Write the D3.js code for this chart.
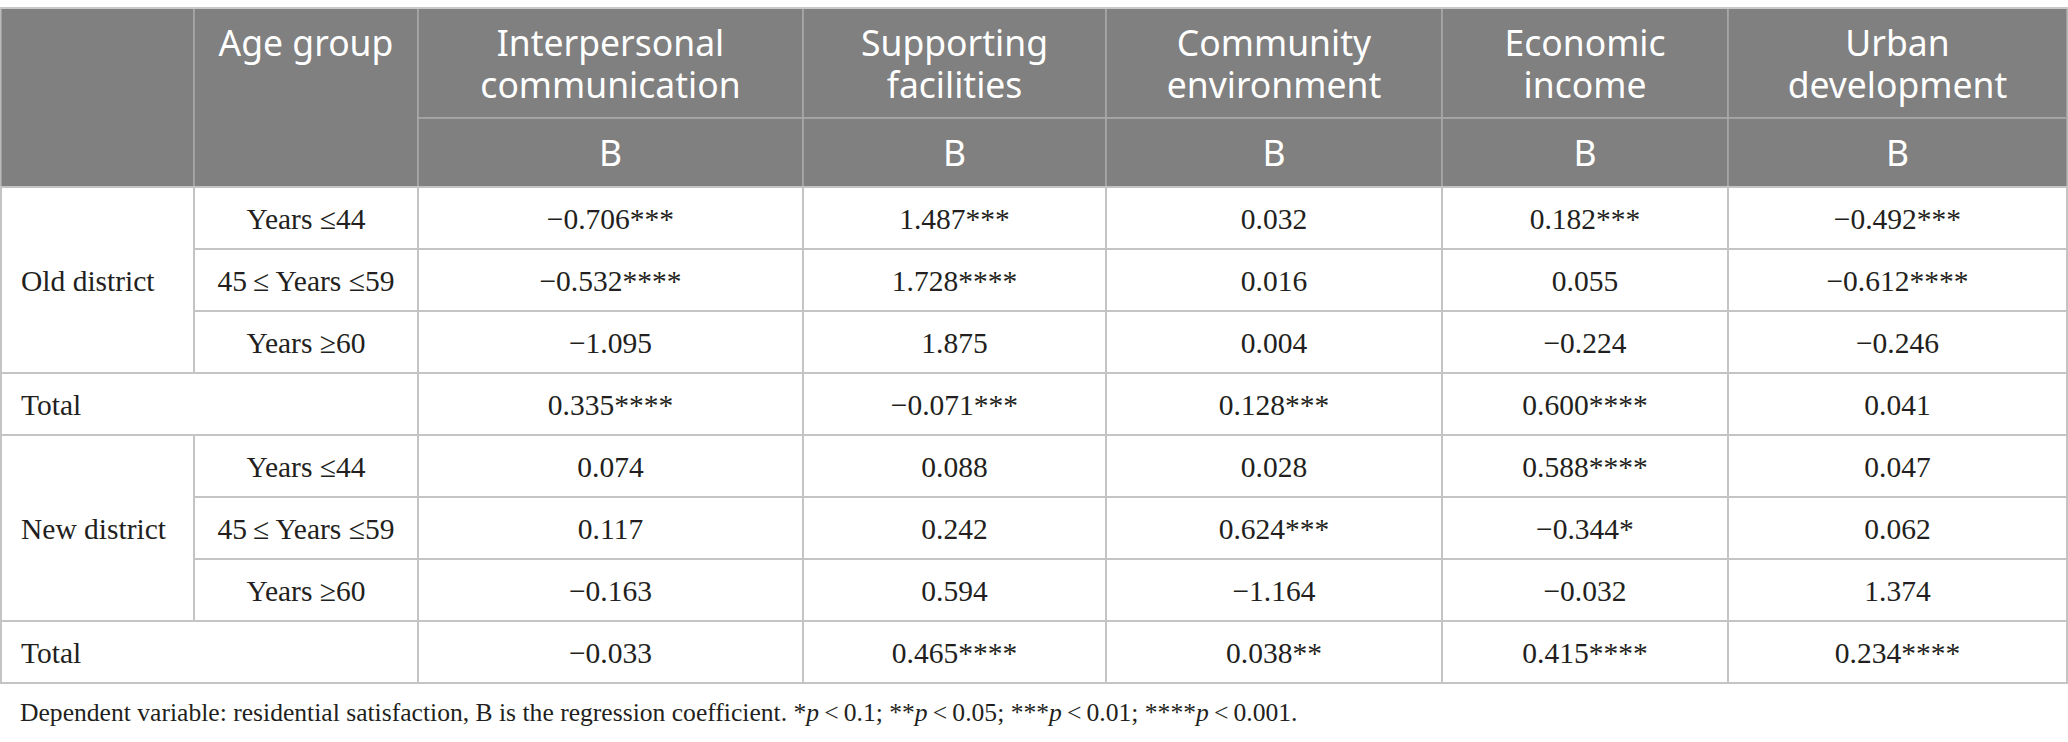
<!DOCTYPE html>
<html>
<head>
<meta charset="utf-8">
<script src="https://cdn.jsdelivr.net/npm/d3@7"></script>
<style>
  html, body { margin: 0; padding: 0; background: #fff; }
</style>
</head>
<body>
<div id="wrapper"></div>
<script>
// table content
const columnTitles = [
  ["Interpersonal", "communication"],
  ["Supporting", "facilities"],
  ["Community", "environment"],
  ["Economic", "income"],
  ["Urban", "development"],
];
const coefLabel = "B";
const ageHeader = "Age group";
const districts = ["Old district", "New district"];
const ageGroups = ["Years \u226444", "45\u2009\u2264 Years \u226459", "Years \u226560"];
const totalLabel = "Total";

// coefficients, rows: three age groups then total
const oldValues = [
  [-0.706, 1.487, 0.032, 0.182, -0.492],
  [-0.532, 1.728, 0.016, 0.055, -0.612],
  [-1.095, 1.875, 0.004, -0.224, -0.246],
  [0.335, -0.071, 0.128, 0.6, 0.041],
];
const oldStars = [
  [3, 3, 0, 3, 3],
  [4, 4, 0, 0, 4],
  [0, 0, 0, 0, 0],
  [4, 3, 3, 4, 0],
];
const newValues = [
  [0.074, 0.088, 0.028, 0.588, 0.047],
  [0.117, 0.242, 0.624, -0.344, 0.062],
  [-0.163, 0.594, -1.164, -0.032, 1.374],
  [-0.033, 0.465, 0.038, 0.415, 0.234],
];
const newStars = [
  [0, 0, 0, 4, 0],
  [0, 0, 3, 1, 0],
  [0, 0, 0, 0, 0],
  [0, 4, 2, 4, 4],
];
const footnote = "Dependent variable: residential satisfaction, B is the regression coefficient. ";
const pLevels = ["*", "**", "***", "****"];
const pValues = ["0.1;", "0.05;", "0.01;", "0.001."];

// layout
const dimensions = { width: 2068, height: 742 };
const colEdges = [1, 194, 418, 803, 1106, 1442, 1728, 2067];
const headerTop = 8, headerSplit = 118, bodyTop = 187, rowHeight = 62;

const xScale = d3.scaleLinear().domain(d3.range(colEdges.length)).range(colEdges);
const nRows = 8;
const yScale = d3.scaleLinear().domain([0, nRows]).range([bodyTop, bodyTop + rowHeight * nRows]);
const fmt = d3.format(".3f");

const svg = d3.select("#wrapper").append("svg")
  .attr("width", dimensions.width)
  .attr("height", dimensions.height);

// ---- header ----
const headerCells = [
  { c0: 0, c1: 1, y0: headerTop, y1: bodyTop, lines: [] },
  { c0: 1, c1: 2, y0: headerTop, y1: bodyTop, lines: [ageHeader] },
];
columnTitles.forEach((t, i) => {
  headerCells.push({ c0: i + 2, c1: i + 3, y0: headerTop, y1: headerSplit, lines: t });
  headerCells.push({ c0: i + 2, c1: i + 3, y0: headerSplit, y1: bodyTop, lines: [coefLabel] });
});

const header = svg.append("g");
header.selectAll("rect").data(headerCells).join("rect")
  .attr("x", d => xScale(d.c0))
  .attr("y", d => d.y0)
  .attr("width", d => xScale(d.c1) - xScale(d.c0))
  .attr("height", d => d.y1 - d.y0)
  .attr("fill", "#7f807f")
  .attr("stroke", "#a8a8a8")
  .attr("stroke-width", 1.6);

header.selectAll("text").data(headerCells).join("text")
  .attr("x", d => (xScale(d.c0) + xScale(d.c1)) / 2)
  .attr("y", d => d.y0 + 48)
  .attr("text-anchor", "middle")
  .attr("fill", "#fff")
  .style("font-family", "'Noto Sans', sans-serif")
  .style("font-size", "35.5px")
  .selectAll("tspan").data(d => d.lines.map((l, i) => ({ l, i }))).join("tspan")
  .attr("x", function () { return d3.select(this.parentNode).attr("x"); })
  .attr("dy", d => d.i === 0 ? 0 : 42)
  .text(d => d.l);

// top rule
svg.append("line")
  .attr("x1", 0).attr("x2", dimensions.width)
  .attr("y1", headerTop).attr("y2", headerTop)
  .attr("stroke", "#c8c8c8").attr("stroke-width", 2);

// ---- body ----
const bodyCells = [];
[[districts[0], oldValues, oldStars], [districts[1], newValues, newStars]].forEach(([name, vals, stars], g) => {
  const r0 = g * 4;
  bodyCells.push({ c0: 0, c1: 1, r0, r1: r0 + 3, text: name, align: "start" });
  ageGroups.forEach((a, i) => {
    bodyCells.push({ c0: 1, c1: 2, r0: r0 + i, r1: r0 + i + 1, text: a });
  });
  bodyCells.push({ c0: 0, c1: 2, r0: r0 + 3, r1: r0 + 4, text: totalLabel, align: "start" });
  vals.forEach((row, i) => {
    row.forEach((v, j) => {
      bodyCells.push({
        c0: j + 2, c1: j + 3, r0: r0 + i, r1: r0 + i + 1,
        text: fmt(v) + "*".repeat(stars[i][j]),
      });
    });
  });
});

const body = svg.append("g");
body.selectAll("rect").data(bodyCells).join("rect")
  .attr("x", d => xScale(d.c0))
  .attr("y", d => yScale(d.r0))
  .attr("width", d => xScale(d.c1) - xScale(d.c0))
  .attr("height", d => yScale(d.r1) - yScale(d.r0))
  .attr("fill", "#fff")
  .attr("stroke", "#c4c4c4")
  .attr("stroke-width", 2);

body.selectAll("text").data(bodyCells).join("text")
  .attr("x", d => d.align === "start" ? xScale(d.c0) + 20 : (xScale(d.c0) + xScale(d.c1)) / 2)
  .attr("y", d => (yScale(d.r0) + yScale(d.r1)) / 2 + 10.5)
  .attr("text-anchor", d => d.align === "start" ? "start" : "middle")
  .attr("fill", "#231f20")
  .style("font-family", "'Liberation Serif', 'Times New Roman', serif")
  .style("font-size", "29.5px")
  .text(d => d.text);

// ---- footnote ----
const note = svg.append("text")
  .attr("x", 20)
  .attr("y", yScale(nRows) + 38)
  .attr("fill", "#231f20")
  .style("font-family", "'Liberation Serif', 'Times New Roman', serif")
  .style("font-size", "25.6px");
note.append("tspan").text(footnote);
pLevels.forEach((s, i) => {
  note.append("tspan").text(s);
  note.append("tspan").style("font-style", "italic").text("p");
  note.append("tspan").text("\u2009<\u2009" + pValues[i] + (i < pLevels.length - 1 ? " " : ""));
});
</script>
</body>
</html>
